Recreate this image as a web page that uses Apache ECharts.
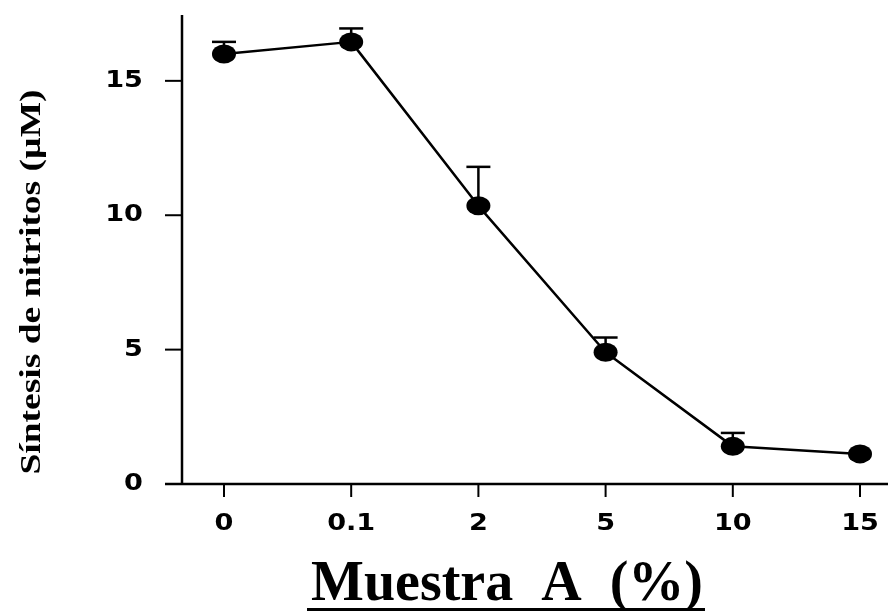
<!DOCTYPE html>
<html><head><meta charset="utf-8">
<script src="https://cdn.jsdelivr.net/npm/echarts@6/dist/echarts.min.js"></script>
<style>html,body{margin:0;padding:0;background:#fff}#c{width:888px;height:611px}</style>
</head><body><div id="c"></div>
<script>
var categories = ['0', '0.1', '2', '5', '10', '15'];
var means = [16.0, 16.45, 10.35, 4.9, 1.4, 1.12];
var errors = [0.45, 0.5, 1.45, 0.55, 0.5, 0];
var yTicks = [0, 5, 10, 15];

var chart = echarts.init(document.getElementById('c'));
var pts = means.map(function (v, i) { return [i, v]; });
var errData = means.map(function (v, i) { return [i, v, v + errors[i]]; });
var tickFont = 'bold 23px "DejaVu Sans"';

chart.setOption({
  animation: false,
  grid: { left: 182, right: 0, top: 15, bottom: 127 },
  xAxis: {
    type: 'value', min: -0.33, max: 5.22,
    splitLine: { show: false }, axisLine: { show: false }, axisTick: { show: false }, axisLabel: { show: false }
  },
  yAxis: {
    type: 'value', min: 0, max: 17.45, interval: 5,
    splitLine: { show: false }, axisLine: { show: false }, axisTick: { show: false }, axisLabel: { show: false }
  },
  series: [
    {
      type: 'custom',
      silent: true,
      data: [0],
      renderItem: function (params, api) {
        var children = [];
        var o = api.coord([-0.33, 0]);
        var top = api.coord([-0.33, 17.45]);
        var right = api.coord([5.22, 0]);
        children.push({ type: 'line', shape: { x1: o[0], y1: top[1], x2: o[0], y2: o[1] + 1 }, style: { stroke: '#000', lineWidth: 2.5 } });
        children.push({ type: 'line', shape: { x1: o[0] - 17, y1: o[1], x2: right[0], y2: o[1] }, style: { stroke: '#000', lineWidth: 2.5 } });
        yTicks.forEach(function (t) {
          var p = api.coord([-0.33, t]);
          if (t > 0) children.push({ type: 'line', shape: { x1: p[0] - 17, y1: p[1], x2: p[0], y2: p[1] }, style: { stroke: '#000', lineWidth: 2 } });
          children.push({ type: 'text', x: p[0] - 39, y: p[1], scaleX: 1.18, style: { text: String(t), x: 0, y: 0, align: 'right', verticalAlign: 'middle', fill: '#000', font: tickFont } });
        });
        categories.forEach(function (c, i) {
          var p = api.coord([i, 0]);
          children.push({ type: 'line', shape: { x1: p[0], y1: p[1], x2: p[0], y2: p[1] + 13 }, style: { stroke: '#000', lineWidth: 2 } });
          children.push({ type: 'text', x: p[0], y: p[1] + 40, scaleX: 1.18, style: { text: c, x: 0, y: 0, align: 'center', verticalAlign: 'middle', fill: '#000', font: tickFont } });
        });
        return { type: 'group', children: children };
      }
    },
    {
      type: 'custom',
      silent: true,
      data: errData,
      z: 3,
      renderItem: function (params, api) {
        var lo = api.coord([api.value(0), api.value(1)]);
        var hi = api.coord([api.value(0), api.value(2)]);
        if (api.value(2) - api.value(1) <= 0) return { type: 'group', children: [] };
        return {
          type: 'group',
          children: [
            { type: 'line', shape: { x1: lo[0], y1: lo[1], x2: hi[0], y2: hi[1] }, style: { stroke: '#000', lineWidth: 2.5 } },
            { type: 'line', shape: { x1: hi[0] - 12, y1: hi[1], x2: hi[0] + 12, y2: hi[1] }, style: { stroke: '#000', lineWidth: 2.5 } }
          ]
        };
      }
    },
    {
      type: 'line',
      data: pts,
      z: 4,
      symbol: 'circle',
      symbolSize: [24, 19],
      showAllSymbol: true,
      lineStyle: { color: '#000', width: 2.5 },
      itemStyle: { color: '#000' }
    }
  ],
  graphic: [
    {
      type: 'text', id: 'yname',
      x: 32, y: 282, rotation: Math.PI / 2, scaleX: 1.25,
      style: { text: 'Síntesis de nitritos (µM)', x: 0, y: 0, align: 'center', verticalAlign: 'middle', fill: '#000', font: 'bold 30px "Liberation Serif"' }
    },
    {
      type: 'text', id: 'xname',
      style: { text: 'Muestra  A  (%)', x: 507, y: 586, align: 'center', verticalAlign: 'middle', fill: '#000', font: 'bold 56px "Liberation Serif"' }
    },
    {
      type: 'rect', shape: { x: 307, y: 608, width: 398, height: 3 }, style: { fill: '#000' }
    }
  ]
});
</script>
</body></html>
